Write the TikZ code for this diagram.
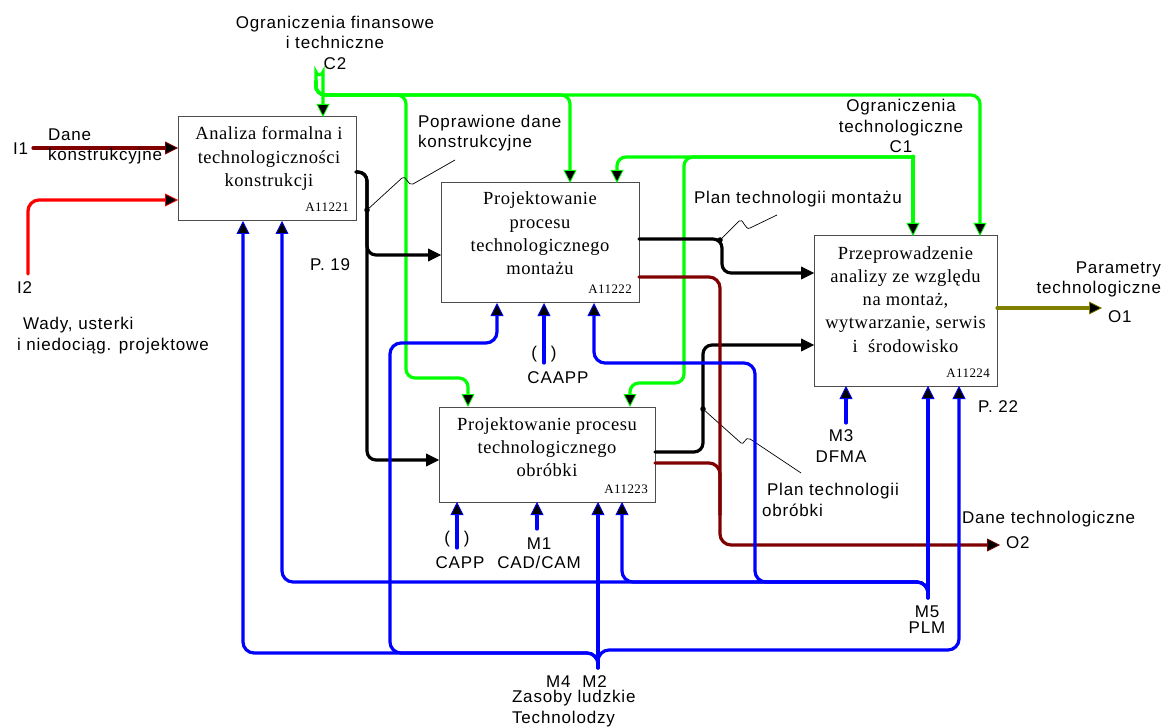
\documentclass[tikz,border=0pt]{standalone}
\usepackage{fontspec}
\setmainfont{Liberation Serif}
\newfontfamily\labfont[LetterSpace=5]{Liberation Sans}
\newfontfamily\procfont[LetterSpace=3]{Liberation Serif}
\usetikzlibrary{arrows.meta}
\definecolor{cgreen}{RGB}{0,255,0}
\definecolor{cblue}{RGB}{0,0,255}
\definecolor{cmaroon}{RGB}{128,0,0}
\definecolor{cred}{RGB}{255,0,0}
\definecolor{colive}{RGB}{128,128,0}
\begin{document}
\begin{tikzpicture}[x=1pt,y=-1pt,
  lbl/.style={font=\labfont\fontsize{17}{20.5}\selectfont, inner sep=0pt, outer sep=0pt},
  lbltight/.style={font=\labfont\fontsize{17}{16}\selectfont, inner sep=0pt, outer sep=0pt},
  fbox/.style={draw=black!70, line width=1pt, fill=white, inner sep=0pt, outer sep=0pt},
  boxt/.style={font=\procfont\fontsize{18.5}{23.3}\selectfont, inner sep=0pt, align=center, anchor=base},
  boxid/.style={font=\procfont\fontsize{13}{15}\selectfont, inner sep=0pt, anchor=base east},
  flow/.style={line width=3.2pt, rounded corners=11pt, line cap=round},
  arr/.style={-{Triangle[length=13pt,width=13pt,fill=black,line width=0.8pt]}},
  gl/.style={flow, draw=cgreen, rounded corners=9pt},
  bl/.style={flow, draw=cblue},
  kl/.style={flow, draw=black, rounded corners=9pt},
  ml/.style={flow, draw=cmaroon},
  rl/.style={flow, draw=cred},
  ol/.style={flow, draw=colive},
  lead/.style={line width=0.7pt, draw=black},
  dot/.style={circle, fill=black, inner sep=0pt, minimum size=5.5pt},
]
\useasboundingbox (0,0) rectangle (1167,727);

% activity boxes
\node[fbox, minimum width=178pt, minimum height=104pt] (b1) at (267,169) {};
\node[fbox, minimum width=198pt, minimum height=120pt] (b2) at (540,243) {};
\node[fbox, minimum width=216pt, minimum height=95pt] (b3) at (547,454.5) {};
\node[fbox, minimum width=183pt, minimum height=150pt] (b4) at (905.5,311) {};

% titles, anchored at the baseline of their last line
\node[boxt] (t1) at ([xshift=2pt,yshift=-69.6pt]b1.north) {Analiza formalna i\\technologiczności\\konstrukcji};
\node[boxt] (t2) at ([yshift=-91.9pt]b2.north) {Projektowanie\\procesu\\technologicznego\\montażu};
\node[boxt] (t3) at ([yshift=-69.6pt]b3.north) {Projektowanie procesu\\technologicznego\\obróbki};
\node[boxt] (t4) at ([yshift=-116.2pt]b4.north) {Przeprowadzenie\\analizy ze względu\\na montaż,\\wytwarzanie, serwis\\i~ środowisko};

\node[boxid] (id1) at ([xshift=-7pt,yshift=9pt]b1.south east) {A11221};
\node[boxid] (id2) at ([xshift=-7pt,yshift=9pt]b2.south east) {A11222};
\node[boxid] (id3) at ([xshift=-7pt,yshift=9pt]b3.south east) {A11223};
\node[boxid] (id4) at ([xshift=-7pt,yshift=9pt]b4.south east) {A11224};

% free ends of boundary arrows
\coordinate (i1) at (33,148);
\coordinate (i2) at (28,274);
\coordinate (c2L) at (316,81);
\coordinate (c1) at (913,157);
\coordinate (o1) at (1102,308);
\coordinate (o2) at (1000,545);
\coordinate (m42) at (598,668);
\coordinate (m5) at (928,598);
\coordinate (m1) at (537,529);
\coordinate (m3) at (846,423);
\coordinate (capp) at (457,548);
\coordinate (caapp) at (544,363);

% controls (green)
\draw[gl,arr] (316,88) -- (316,81) .. controls (316,75.5) and (323,75.5) .. (323,81) -- (b1.north -| 323,0);
\draw[gl,arr] (c2L) |- (406,95) -- (406,378) -| (b3.north -| 468,0);
\draw[gl,arr] (c2L) |- (570,95) -- (b2.north -| 570,0);
\draw[gl,arr] (c2L) |- (980,95) -- (b4.north -| 980,0);
\draw[gl,arr] (c1) -- (b4.north -| c1);
\draw[gl,arr] (c1) -| (b2.north -| 617,0);
\draw[gl,arr] (c1) -| (684,383) -| (b3.north -| 630,0);
\fill[cgreen] (c1) circle (2.4pt);

% inputs
\draw[ml,arr] (i1) -- (b1.west |- i1);
\draw[rl,arr] (i2) |- (b1.west |- 0,200);

% data flows between activities (black)
\draw[kl,arr] (b1.east |- 0,172) -| (367,255) -- (b2.west |- 0,255);
\draw[kl,arr] (b1.east |- 0,172) -| (367,460) -- (b3.west |- 0,460);
\draw[kl,arr] (b2.east |- 0,239) -| (722,273) -- (b4.west |- 0,273);
\draw[kl,arr] (b3.east |- 0,452) -| (703,345) -- (b4.west |- 0,345);

\node[dot] (d1) at (367,210) {};
\node[dot] (d2) at (720,240) {};
\node[dot] (d3) at (703,409) {};
\draw[lead] (d1.center) -- (402,178) .. controls (406,174) and (408,187) .. (413,184) -- (455,160);
\draw[lead] (d2.center) -- (739,221) .. controls (743,217) and (745,231) .. (750,228) -- (777,215);
\draw[lead] (d3.center) -- (741,443) .. controls (744,446) and (745,436) .. (750,439) -- (801,473);

% outputs
\draw[ml,arr] (b2.east |- 0,277) -| (720,545) -- (o2);
\draw[ml] (b3.east |- 0,463) -| (720,515);
\draw[ol,arr] (b4.east |- o1) -- (o1);

% mechanisms (blue)
\draw[bl,arr] (m42) -- (b3.south -| m42);
\draw[bl,arr] (m42) -- (598,653) -| (b1.south -| 243,0);
\draw[bl,arr] (m42) -- (598,653) -| (390,343) -| (b2.south -| 497,0);
\draw[bl,arr] (m42) -- (598,650) -| (b4.south -| 959,0);
\draw[bl,arr] (m5) -- (b4.south -| m5);
\draw[bl,arr] (m5) -- (928,582) -| (b1.south -| 282,0);
\draw[bl,arr] (m5) -- (928,582) -| (b3.south -| 622,0);
\draw[bl,arr] (m5) -- (928,582) -| (755,363) -| (b2.south -| 594,0);
\draw[bl,arr] (m1) -- (b3.south -| m1);
\draw[bl,arr] (m3) -- (b4.south -| m3);
\draw[bl,arr] (capp) -- (b3.south -| capp);
\draw[bl,arr] (caapp) -- (b2.south -| caapp);

\node[lbl, anchor=base] (pp1) at (457,543) {(\hspace{14pt})};
\node[lbl, anchor=base] (pp2) at (544,358) {(\hspace{14pt})};

% labels (multi-line ones anchored at the baseline of their last line)
\node[lbl, align=center, anchor=base] (lc2) at (335,69.5) {Ograniczenia finansowe\\i techniczne\\C2};
\node[lbl, align=left, anchor=base west] (ldane) at (48,161) {Dane\\konstrukcyjne};
\node[lbl, anchor=base west] (li1) at (13,155) {I1};
\node[lbl, anchor=base west] (li2) at (17,294) {I2};
\node[lbl, align=left, anchor=base west] (lwady) at (17,350) {\hspace*{6pt}Wady, usterki\\i niedociąg. projektowe};
\node[lbl, anchor=base west] (lp19) at (310,271) {P. 19};
\node[lbl, align=left, anchor=base west] (lpop) at (418,148) {Poprawione dane\\konstrukcyjne};
\node[lbl, anchor=base west] (lplanm) at (694,204) {Plan technologii montażu};
\node[lbl, align=center, anchor=base] (lc1) at (901,153) {Ograniczenia\\technologiczne\\C1};
\node[lbl, align=right, anchor=base east] (lpar) at (1161,294) {Parametry\\technologiczne};
\node[lbl, anchor=base west] (lo1) at (1108,322) {O1};
\node[lbl, anchor=base west] (lp22) at (978,412) {P. 22};
\node[lbl, align=center, anchor=base] (lm3) at (841,462) {M3\\DFMA};
\node[lbl, align=left, anchor=base west] (lplano) at (762,516) {\hspace*{5pt}Plan technologii\\obróbki};
\node[lbl, anchor=base west] (ldt) at (962,523) {Dane technologiczne};
\node[lbl, anchor=base west] (lo2) at (1006,548) {O2};
\node[lbl, anchor=base] (lcaapp) at (558,383) {CAAPP};
\node[lbl, anchor=base] (lcapp) at (460,568) {CAPP};
\node[lbltight, align=center, anchor=base, font=\labfont\fontsize{17}{19}\selectfont] (lm1) at (539,568) {M1\\CAD/CAM};
\node[lbl, anchor=base west] (lm42) at (546,687) {M4\hspace{12pt}M2};
\node[lbl, align=left, anchor=base west] (lzas) at (512,723) {Zasoby ludzkie\\Technolodzy};
\node[lbltight, align=center, anchor=base] (lm5) at (927,633) {M5\\PLM};
\end{tikzpicture}
\end{document}
